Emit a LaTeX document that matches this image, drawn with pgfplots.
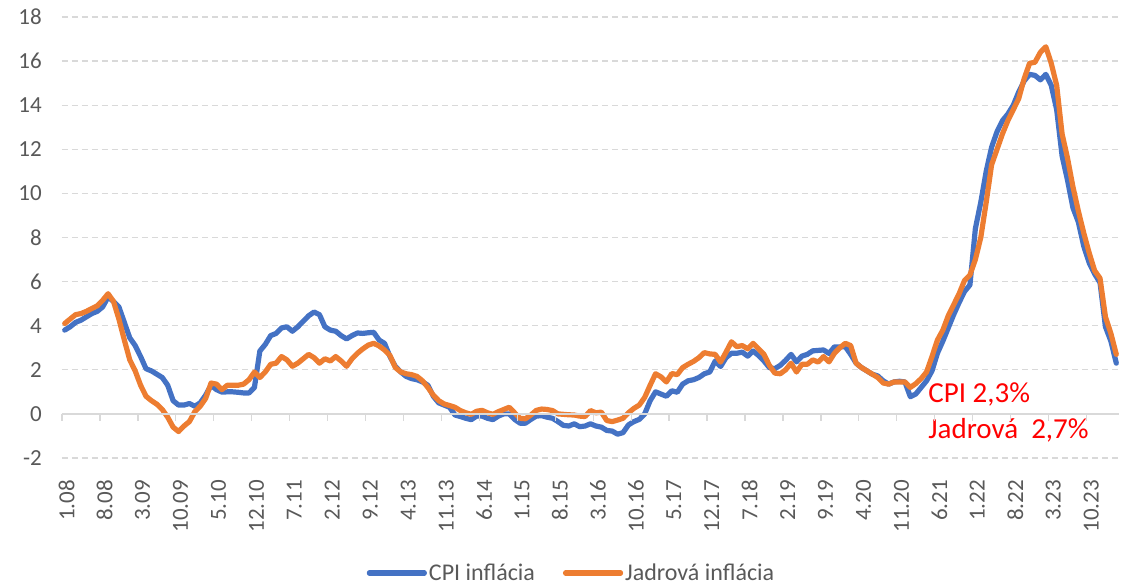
\documentclass[border=0pt]{standalone}
\usepackage{pgfplots}
\pgfplotsset{compat=1.18}
\usepackage{pgfplotstable}
\usepackage{fontspec}
\setmainfont{Carlito}
\definecolor{cpiblue}{HTML}{4472C4}
\definecolor{coreorange}{HTML}{ED7D31}
\definecolor{gridgray}{HTML}{D9D9D9}
\definecolor{txtgray}{HTML}{595959}

\pgfplotstableread{
i cpi core
0 3.80 4.10
1 3.95 4.30
2 4.15 4.50
3 4.25 4.55
4 4.40 4.65
5 4.55 4.78
6 4.65 4.90
7 4.85 5.15
8 5.30 5.45
9 5.10 5.10
10 4.85 4.30
11 4.15 3.35
12 3.45 2.45
13 3.10 1.95
14 2.60 1.30
15 2.05 0.80
16 1.95 0.60
17 1.80 0.44
18 1.65 0.20
19 1.30 -0.15
20 0.60 -0.60
21 0.40 -0.80
22 0.40 -0.55
23 0.47 -0.35
24 0.35 0.10
25 0.50 0.35
26 0.85 0.70
27 1.30 1.40
28 1.10 1.35
29 0.99 1.10
30 1.00 1.30
31 1.00 1.30
32 0.98 1.30
33 0.95 1.35
34 0.95 1.55
35 1.20 1.90
36 2.85 1.65
37 3.15 1.90
38 3.55 2.25
39 3.65 2.30
40 3.90 2.60
41 3.95 2.45
42 3.75 2.16
43 3.95 2.30
44 4.20 2.50
45 4.45 2.70
46 4.62 2.55
47 4.50 2.30
48 3.95 2.50
49 3.80 2.40
50 3.75 2.60
51 3.55 2.40
52 3.40 2.16
53 3.55 2.50
54 3.67 2.75
55 3.65 2.95
56 3.68 3.12
57 3.70 3.20
58 3.35 3.08
59 3.20 2.90
60 2.60 2.65
61 2.15 2.10
62 1.90 1.90
63 1.70 1.82
64 1.60 1.78
65 1.55 1.70
66 1.45 1.50
67 1.30 1.20
68 0.80 0.85
69 0.50 0.60
70 0.40 0.45
71 0.30 0.38
72 -0.05 0.30
73 -0.12 0.15
74 -0.20 0.05
75 -0.26 -0.02
76 -0.10 0.12
77 -0.10 0.16
78 -0.20 0.05
79 -0.26 -0.02
80 -0.10 0.10
81 0.00 0.20
82 0.00 0.30
83 -0.25 0.05
84 -0.42 -0.20
85 -0.42 -0.22
86 -0.25 -0.05
87 -0.10 0.16
88 -0.08 0.22
89 -0.15 0.20
90 -0.20 0.15
91 -0.35 0.00
92 -0.52 -0.02
93 -0.55 -0.04
94 -0.45 -0.05
95 -0.58 -0.10
96 -0.55 -0.12
97 -0.45 0.15
98 -0.55 0.05
99 -0.60 0.08
100 -0.75 -0.30
101 -0.78 -0.35
102 -0.92 -0.28
103 -0.85 -0.20
104 -0.50 0.05
105 -0.35 0.25
106 -0.25 0.40
107 0.00 0.75
108 0.60 1.30
109 1.00 1.82
110 0.90 1.68
111 0.80 1.45
112 1.05 1.83
113 0.98 1.78
114 1.35 2.10
115 1.50 2.25
116 1.55 2.38
117 1.65 2.55
118 1.82 2.78
119 1.90 2.72
120 2.40 2.70
121 2.15 2.35
122 2.55 2.80
123 2.75 3.27
124 2.75 3.05
125 2.80 3.10
126 2.62 2.95
127 2.85 3.20
128 2.65 2.95
129 2.40 2.70
130 2.10 2.20
131 2.05 1.85
132 2.20 1.82
133 2.43 2.00
134 2.70 2.30
135 2.36 1.90
136 2.62 2.25
137 2.70 2.25
138 2.86 2.45
139 2.88 2.35
140 2.90 2.60
141 2.74 2.36
142 3.04 2.75
143 3.04 3.00
144 3.05 3.20
145 2.70 3.10
146 2.30 2.30
147 2.10 2.10
148 1.95 1.95
149 1.80 1.80
150 1.72 1.65
151 1.50 1.40
152 1.35 1.35
153 1.45 1.45
154 1.48 1.45
155 1.45 1.45
156 0.78 1.20
157 0.90 1.37
158 1.20 1.60
159 1.50 1.90
160 1.95 2.60
161 2.75 3.35
162 3.30 3.80
163 3.90 4.45
164 4.50 4.95
165 5.05 5.45
166 5.55 6.05
167 5.85 6.30
168 8.40 7.00
169 9.60 8.00
170 11.00 9.60
171 12.10 11.30
172 12.80 12.00
173 13.30 12.70
174 13.60 13.30
175 14.00 13.80
176 14.60 14.30
177 15.10 15.20
178 15.40 15.90
179 15.35 15.95
180 15.15 16.40
181 15.40 16.65
182 14.90 15.90
183 13.80 14.90
184 11.70 12.70
185 10.60 11.60
186 9.35 10.30
187 8.70 9.20
188 7.60 8.20
189 6.85 7.30
190 6.35 6.50
191 5.95 6.15
192 3.95 4.40
193 3.30 3.65
194 2.30 2.70
}\datatable

\begin{document}
\begin{tikzpicture}
\begin{axis}[
  name=ax,
  width=1057pt, height=441pt, scale only axis,
  xmin=-0.5, xmax=194.5, ymin=-2, ymax=18,
  axis line style={draw=none},
  ytick={-2,0,...,18},
  ymajorgrids,
  grid style={gridgray, line width=1.3pt, dash pattern=on 6pt off 4pt},
  xtick={0,7,...,189},
  xticklabels={1.08,8.08,3.09,10.09,5.10,12.10,7.11,2.12,9.12,4.13,11.13,6.14,1.15,8.15,3.16,10.16,5.17,12.17,7.18,2.19,9.19,4.20,11.20,6.21,1.22,8.22,3.23,10.23},
  major tick length=0pt,
  tick style={draw=none},
  /pgf/number format/assume math mode=true,
  ticklabel style={font=\fontsize{23}{27}\selectfont, text=txtgray},
  xticklabel style={yshift=-22pt, xshift=2pt, rotate=90, anchor=east, inner sep=0pt},
  yticklabel style={xshift=-20pt, anchor=east, inner sep=0pt},
  legend columns=2,
  legend style={draw=none, fill=none, at={(0.482,-0.2608)}, anchor=center,
    font=\fontsize{24}{28}\selectfont, text=txtgray, inner sep=0pt,
    /tikz/every even column/.append style={column sep=26pt}},
  legend image code/.code={\draw[#1, line width=5.2pt, line cap=round] (0pt,0pt) -- (55pt,0pt);},
  every axis plot/.append style={line width=5.2pt, line join=round, line cap=round},
]
\addplot[cpiblue, no markers] table[x=i, y=cpi] {\datatable};
\addlegendentry{CPI inflácia}
\addplot[coreorange, no markers] table[x=i, y=core] {\datatable};
\addlegendentry{Jadrová inflácia}
\node[anchor=base west, inner sep=0pt, text=red, font=\fontsize{29}{34}\selectfont] at (axis cs:159.3,0.53) {CPI 2,3\%};
\node[anchor=base west, inner sep=0pt, text=red, font=\fontsize{29}{34}\selectfont] at (axis cs:159.3,-1.11) {Jadrová\ \ 2,7\%};
\end{axis}
\begin{axis}[
  width=1057pt, height=441pt, scale only axis,
  xmin=-0.5, xmax=194.5, ymin=-2, ymax=18,
  axis x line=middle, axis y line=none,
  every inner x axis line/.append style={-},
  x axis line style={gridgray, line width=1.5pt},
  xtick={-0.5,6.5,...,188.5}, xticklabels={},
  ytick=\empty,
  tick align=outside, major tick length=7pt,
  tick style={gridgray, line width=1.3pt},
]
\end{axis}
\path ([shift={(-62pt,-128pt)}]ax.south west) rectangle ([shift={(15pt,17pt)}]ax.north east);
\end{tikzpicture}
\end{document}
